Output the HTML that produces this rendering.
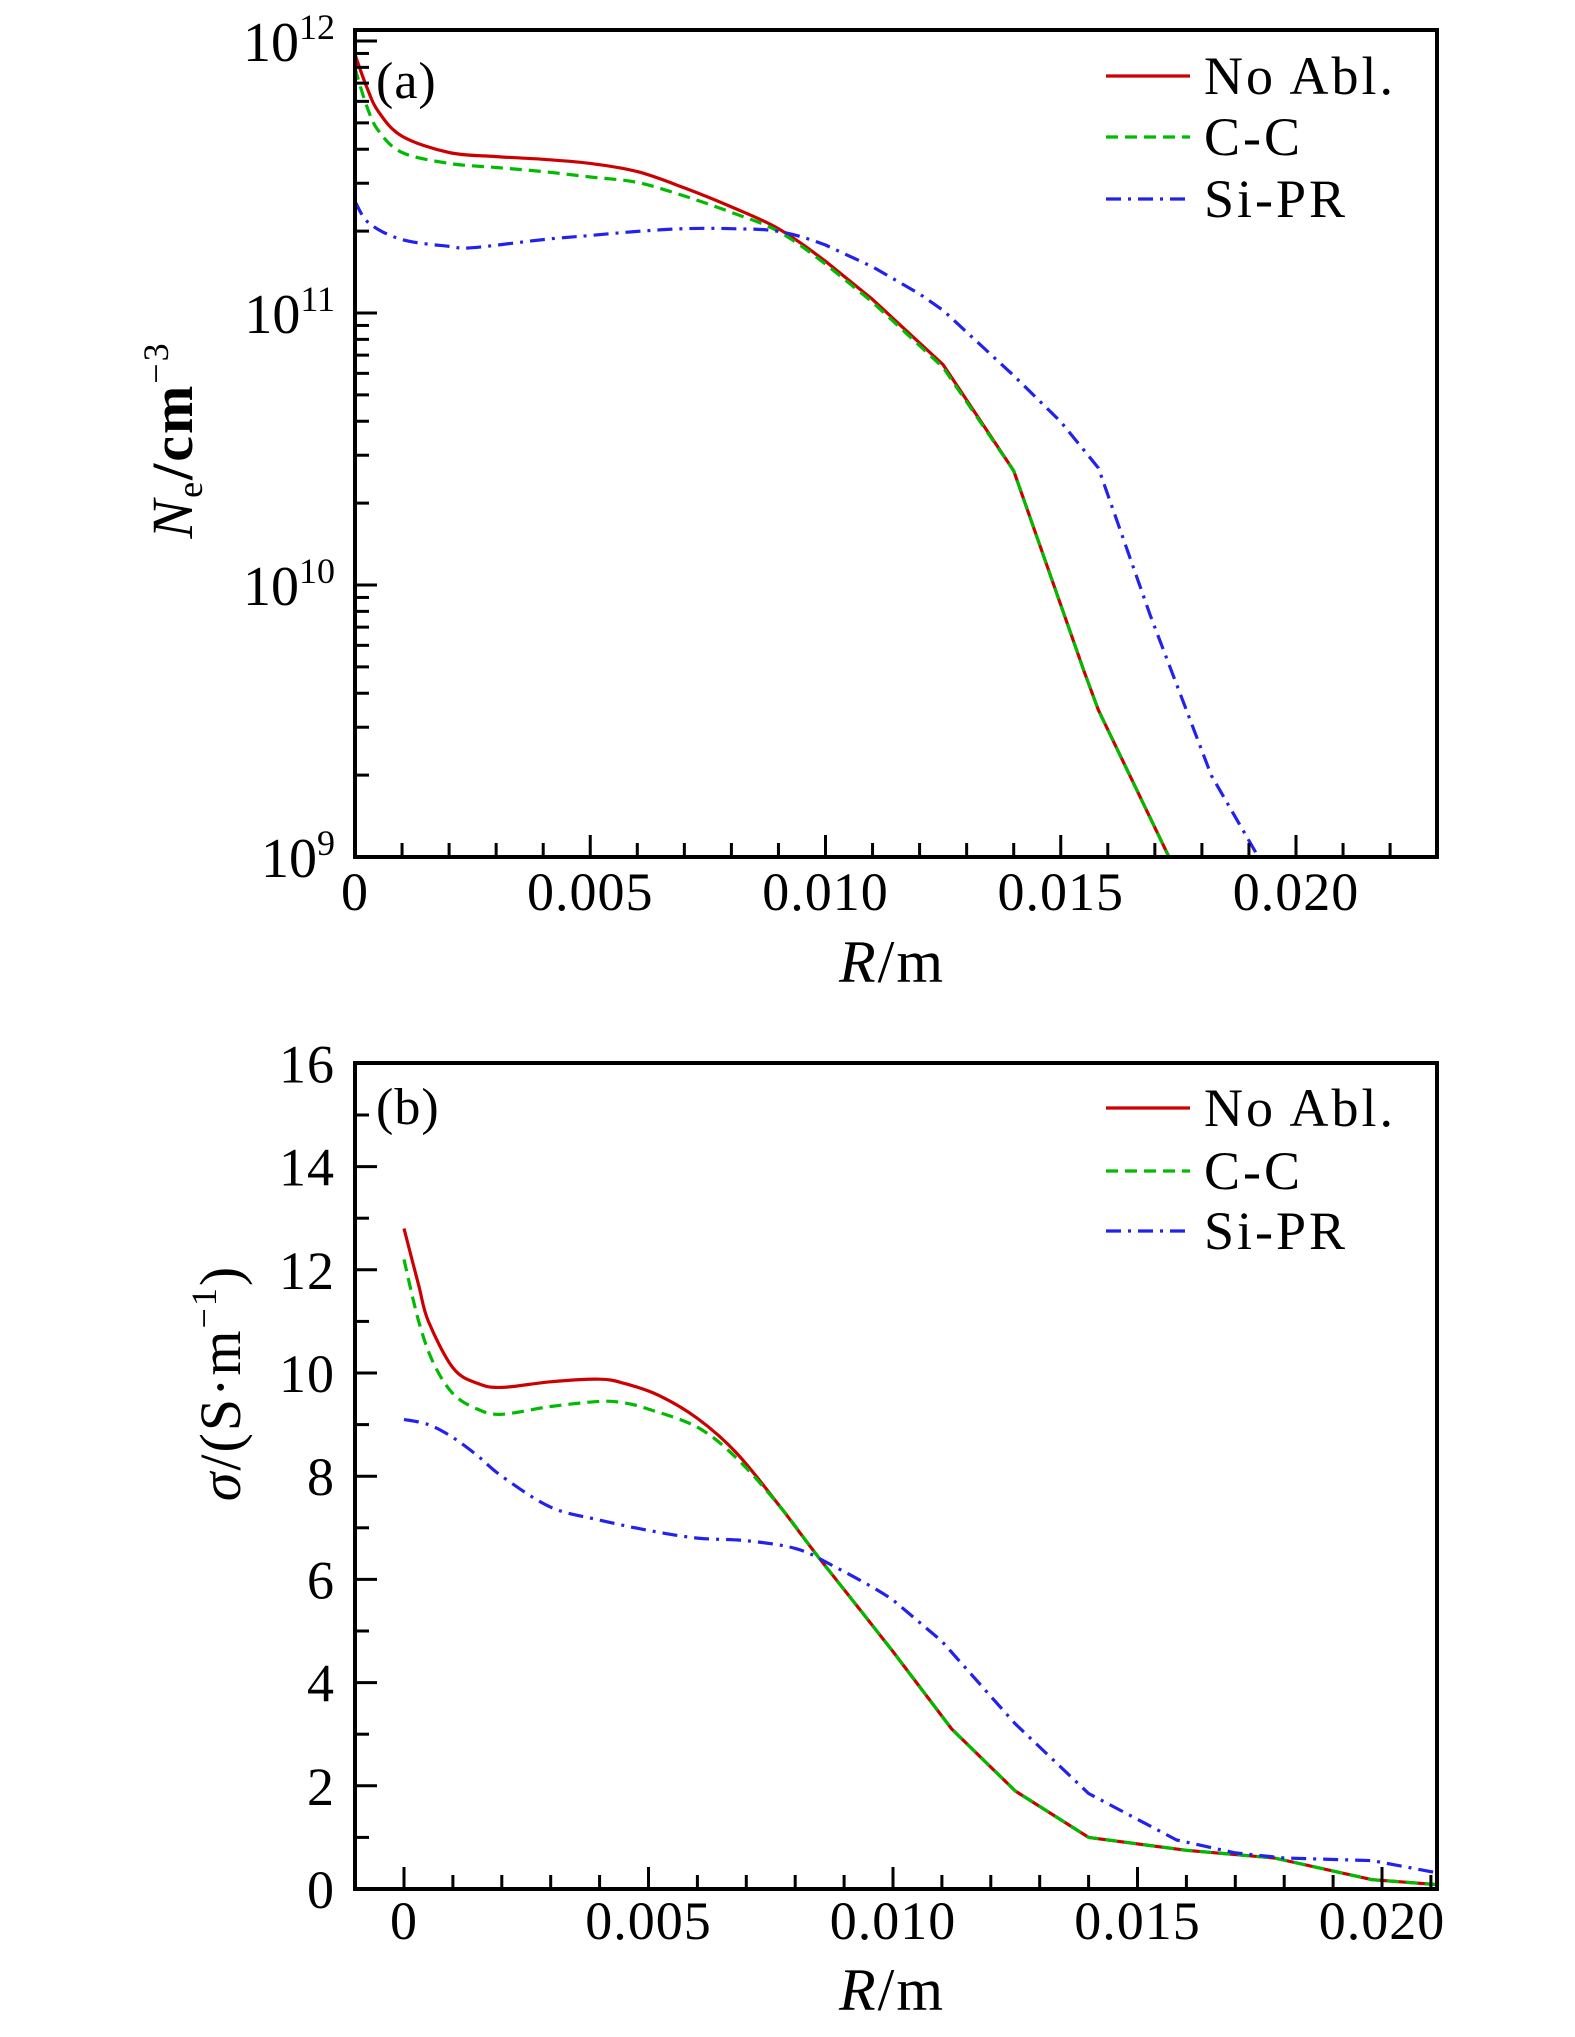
<!DOCTYPE html>
<html><head><meta charset="utf-8"><style>
html,body{margin:0;padding:0;background:#fff;}
svg{display:block;font-family:"Liberation Serif",serif;}
</style></head><body>
<svg id="chart" width="1575" height="2037" viewBox="0 0 1575 2037">
<defs>
<clipPath id="clipA"><rect x="355" y="30" width="1082" height="827"/></clipPath>
<clipPath id="clipB"><rect x="355" y="1063" width="1082" height="826"/></clipPath>
</defs>
<g id="panelA"></g>
<g id="panelB"></g>
</svg>
<script>
// Panel (a) data: R (m) and log10(Ne / cm^-3)
const aNoAblR = [0,0.00025,0.0005,0.001,0.002,0.003,0.004,0.005,0.006,0.007,0.008,0.009,0.010,0.011,0.0125,0.014,0.0155,0.0158,0.0173];
const aNoAblV = [11.95,11.83,11.74,11.65,11.59,11.575,11.565,11.55,11.52,11.46,11.39,11.31,11.19,11.05,10.81,10.42,9.68,9.54,9.0];
const aCCR = [0,0.00025,0.0005,0.001,0.002,0.003,0.004,0.005,0.006,0.007,0.008,0.009,0.010,0.011,0.0125,0.014,0.0155,0.0158,0.0173];
const aCCV = [11.9,11.76,11.67,11.59,11.55,11.535,11.52,11.5,11.48,11.43,11.37,11.3,11.18,11.04,10.8,10.42,9.68,9.54,9.0];
const aSiR = [0,0.0003,0.001,0.002,0.0025,0.004,0.005,0.006,0.007,0.008,0.009,0.010,0.011,0.012,0.0125,0.014,0.015,0.0158,0.0169,0.0182,0.0192];
const aSiV = [11.41,11.33,11.27,11.245,11.24,11.27,11.285,11.3,11.31,11.31,11.3,11.25,11.17,11.07,11.01,10.77,10.6,10.43,9.89,9.3,9.0];
// Panel (b) data: R (m) and sigma (S/m)
const bNoAblR = [0,0.0003,0.0005,0.001,0.0015,0.002,0.003,0.004,0.0045,0.0052,0.006,0.0068,0.0077,0.0085,0.010,0.0112,0.0125,0.014,0.016,0.0178,0.0198,0.0212];
const bNoAblV = [12.8,11.7,11.0,10.1,9.8,9.72,9.83,9.88,9.8,9.57,9.12,8.45,7.4,6.4,4.6,3.1,1.9,1.0,0.75,0.6,0.18,0.08];
const bCCR = [0,0.0003,0.0006,0.001,0.0015,0.002,0.003,0.004,0.0045,0.005,0.006,0.0068,0.0077,0.0085,0.010,0.0112,0.0125,0.014,0.016,0.0178,0.0198,0.0212];
const bCCV = [12.2,11.0,10.2,9.6,9.3,9.2,9.35,9.45,9.42,9.3,8.95,8.35,7.4,6.4,4.6,3.1,1.9,1.0,0.75,0.6,0.18,0.08];
const bSiR = [0,0.0005,0.001,0.0015,0.002,0.003,0.004,0.005,0.006,0.007,0.008,0.0087,0.010,0.011,0.0125,0.014,0.0158,0.017,0.018,0.0198,0.0212];
const bSiV = [9.1,9.0,8.75,8.4,8.0,7.4,7.15,6.95,6.8,6.75,6.6,6.3,5.6,4.8,3.2,1.85,0.95,0.7,0.6,0.55,0.3];
const aYTicks = [12,11,10,9];
const bYTicks = [0,2,4,6,8,10,12,14,16];
const xTickLabels = ["0","0.005","0.010","0.015","0.020"];
const xTickVals = [0,0.005,0.010,0.015,0.020];
const legendNames = ["No Abl.","C-C","Si-PR"];

const NS="http://www.w3.org/2000/svg";
function mk(parent,tag,attrs,text){const e=document.createElementNS(NS,tag);for(const k in attrs)e.setAttribute(k,attrs[k]);if(text!==undefined)e.textContent=text;parent.appendChild(e);return e;}
const styles=[{stroke:"#cc0000",dash:""},{stroke:"#00bb00",dash:"12 7"},{stroke:"#2222ee",dash:"15 7 3 7"}];

const axA={x:r=>355+r*47050, y:v=>41+(12-v)*272};
const axB={x:r=>404+r*48900, y:v=>1889-v*51.6};
const SMOOTH_LIMIT=0.0102; // beyond this R, segments drawn straight (kinked source data)

function pathFor(rs,vs,ax){
  const pts=rs.map((r,j)=>[ax.x(r),ax.y(vs[j])]);
  let d="M"+pts[0][0].toFixed(1)+" "+pts[0][1].toFixed(1);
  const t=0.5/3;
  for(let i=0;i<pts.length-1;i++){
    const p1=pts[i],p2=pts[i+1];
    if(rs[i+1]>SMOOTH_LIMIT){d+=" L"+p2[0].toFixed(1)+" "+p2[1].toFixed(1);continue;}
    const p0=pts[Math.max(0,i-1)],p3=pts[Math.min(pts.length-1,i+2)];
    const c1=[p1[0]+(p2[0]-p0[0])*t,p1[1]+(p2[1]-p0[1])*t];
    const c2=[p2[0]-(p3[0]-p1[0])*t,p2[1]-(p3[1]-p1[1])*t];
    d+=" C"+c1[0].toFixed(1)+" "+c1[1].toFixed(1)+" "+c2[0].toFixed(1)+" "+c2[1].toFixed(1)+" "+p2[0].toFixed(1)+" "+p2[1].toFixed(1);
  }
  return d;
}

function drawPanel(g,ax,clip,series,top,bottom,legY,label,labelY,xlabOff){
  series.forEach((s,i)=>{
    const p=mk(g,"path",{d:pathFor(s[0],s[1],ax),fill:"none",stroke:styles[i].stroke,"stroke-width":3.2,"stroke-dasharray":styles[i].dash,"clip-path":"url(#"+clip+")","stroke-linejoin":"round"});
    
    
  });
  const fr=mk(g,"rect",{x:355,y:top,width:1082,height:bottom-top,fill:"none",stroke:"#000","stroke-width":4});
  
  
  for(let k=0;k<=23;k++){
    const r=k*0.001, x=ax.x(r); if(x<357||x>1435) continue;
    const len=(k%5===0)?22:14;
    mk(g,"line",{x1:x,y1:bottom,x2:x,y2:bottom-len,stroke:"#000","stroke-width":3});
  }
  xTickVals.forEach((v,i)=>{
    const t=mk(g,"text",{x:ax.x(v),y:bottom+xlabOff,"font-size":54,"text-anchor":"middle","letter-spacing":"1"},xTickLabels[i]);
    
    
  });
  legendNames.forEach((n,i)=>{
    mk(g,"line",{x1:1106,y1:legY[i],x2:1190,y2:legY[i],stroke:styles[i].stroke,"stroke-width":3.2,"stroke-dasharray":styles[i].dash});
    const t=mk(g,"text",{x:1204,y:legY[i]+18,"font-size":54,"letter-spacing":"3"},n);
    
    
  });
  const pl=mk(g,"text",{x:376,y:labelY,"font-size":52,"letter-spacing":"1"},label);
  
  
}

const gA=document.getElementById("panelA"), gB=document.getElementById("panelB");
drawPanel(gA,axA,"clipA",[[aNoAblR,aNoAblV],[aCCR,aCCV],[aSiR,aSiV]],30,857,[76,137,199],"(a)",98,53);
for(let dec=9;dec<12;dec++){
  for(let m=1;m<=10;m++){
    const v=dec+Math.log10(m); const y=axA.y(v);
    const len=(m===1||m===10)?22:14;
    mk(gA,"line",{x1:355,y1:y,x2:355+len,y2:y,stroke:"#000","stroke-width":3});
  }
}
aYTicks.forEach(v=>{
  const t=mk(gA,"text",{x:335,y:axA.y(v)+20,"font-size":56,"text-anchor":"end"});
  mk(t,"tspan",{},"10");
  mk(t,"tspan",{dy:-22,"font-size":36},String(v));
  
  
});
let yt=mk(gA,"text",{x:0,y:0,"font-size":58,"text-anchor":"middle","letter-spacing":"2",transform:"translate(192,440) rotate(-90)"});
mk(yt,"tspan",{"font-style":"italic"},"N");
mk(yt,"tspan",{dy:10,"font-size":36},"e");
mk(yt,"tspan",{dy:-10,"font-weight":"bold"},"/cm");
mk(yt,"tspan",{dy:-24,"font-size":36},"−3");


let xt=mk(gA,"text",{x:892,y:982,"font-size":60,"text-anchor":"middle","letter-spacing":"2"});
mk(xt,"tspan",{"font-style":"italic"},"R");
mk(xt,"tspan",{},"/m");



drawPanel(gB,axB,"clipB",[[bNoAblR,bNoAblV],[bCCR,bCCV],[bSiR,bSiV]],1063,1889,[1108,1171,1231],"(b)",1124,50);
for(let v=0;v<=16;v++){
  const y=axB.y(v); const len=(v%2===0)?22:14;
  mk(gB,"line",{x1:355,y1:y,x2:355+len,y2:y,stroke:"#000","stroke-width":3});
}
bYTicks.forEach(v=>{
  const t=mk(gB,"text",{x:335,y:axB.y(v)+19,"font-size":54,"text-anchor":"end","letter-spacing":"1"},String(v));
  
  
});
yt=mk(gB,"text",{x:0,y:0,"font-size":58,"text-anchor":"middle","letter-spacing":"2",transform:"translate(240,1383) rotate(-90)"});
mk(yt,"tspan",{"font-style":"italic"},"σ");
mk(yt,"tspan",{},"/(S·m");
mk(yt,"tspan",{dy:-24,"font-size":36},"−1");
mk(yt,"tspan",{dy:24},")");


xt=mk(gB,"text",{x:892,y:2010,"font-size":60,"text-anchor":"middle","letter-spacing":"2"});
mk(xt,"tspan",{"font-style":"italic"},"R");
mk(xt,"tspan",{},"/m");


</script>
</body></html>
